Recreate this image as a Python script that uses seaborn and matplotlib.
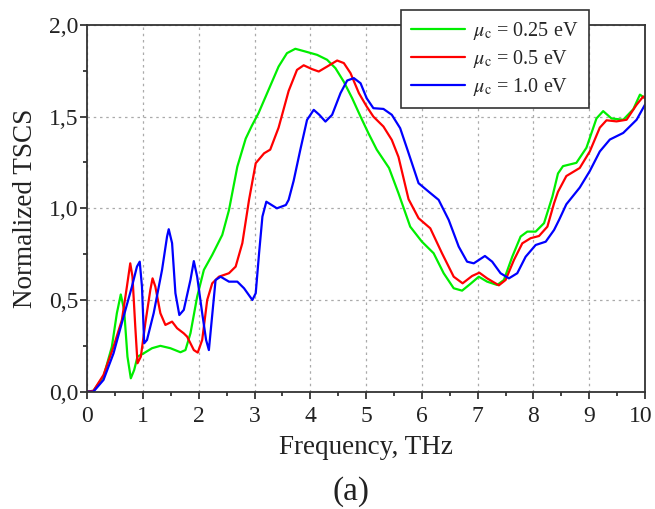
import numpy as np
import pandas as pd
import seaborn as sns
import matplotlib
matplotlib.use("Agg")
import matplotlib.pyplot as plt
import matplotlib.transforms as mtransforms
from matplotlib.ticker import MultipleLocator, FuncFormatter

# values
freq_025 = [0.0, 0.11, 0.29, 0.44, 0.53, 0.60, 0.66, 0.72, 0.78, 0.84, 0.90, 1.01, 1.16, 1.31,
            1.49, 1.67, 1.76, 1.85, 1.97, 2.09, 2.24, 2.42, 2.54, 2.69, 2.84, 2.95, 3.07, 3.25,
            3.43, 3.58, 3.73, 3.91, 4.12, 4.30, 4.45, 4.60, 4.75, 4.90, 5.04, 5.19, 5.41, 5.58,
            5.79, 6.00, 6.21, 6.39, 6.57, 6.72, 6.87, 7.02, 7.17, 7.35, 7.47, 7.62, 7.77, 7.89,
            8.04, 8.19, 8.34, 8.44, 8.53, 8.77, 8.95, 9.13, 9.25, 9.40, 9.61, 9.79, 9.91, 10.0]
tscs_025 = [0.0, 0.005, 0.082, 0.245, 0.428, 0.53, 0.446, 0.191, 0.073, 0.118, 0.191, 0.209, 0.237, 0.25,
            0.237, 0.215, 0.227, 0.319, 0.518, 0.664, 0.746, 0.855, 0.99, 1.227, 1.38, 1.45, 1.519, 1.646,
            1.773, 1.846, 1.87, 1.855, 1.837, 1.81, 1.764, 1.69, 1.60, 1.50, 1.41, 1.32, 1.22, 1.082,
            0.90, 0.818, 0.755, 0.646, 0.564, 0.551, 0.588, 0.627, 0.60, 0.582, 0.609, 0.736, 0.846, 0.873,
            0.873, 0.919, 1.064, 1.19, 1.23, 1.248, 1.33, 1.49, 1.53, 1.49, 1.483, 1.54, 1.62, 1.60]

freq_05 = [0.0, 0.11, 0.29, 0.47, 0.62, 0.71, 0.77, 0.81, 0.86, 0.90, 0.96, 1.04, 1.13, 1.17, 1.22,
           1.31, 1.40, 1.52, 1.61, 1.73, 1.79, 1.91, 1.98, 2.06, 2.15, 2.24, 2.36, 2.54, 2.66, 2.78,
           2.90, 3.02, 3.17, 3.28, 3.43, 3.61, 3.76, 3.88, 4.03, 4.15, 4.30, 4.48, 4.60, 4.72, 4.87,
           5.01, 5.13, 5.31, 5.46, 5.58, 5.76, 5.94, 6.15, 6.36, 6.57, 6.73, 6.90, 7.03, 7.17, 7.38,
           7.50, 7.65, 7.80, 7.95, 8.10, 8.25, 8.37, 8.44, 8.59, 8.83, 9.01, 9.19, 9.31, 9.49, 9.67,
           9.85, 9.97, 10.0]
tscs_05 = [0.0, 0.005, 0.091, 0.245, 0.391, 0.573, 0.70, 0.627, 0.355, 0.155, 0.191, 0.373, 0.555, 0.618, 0.573,
           0.428, 0.364, 0.382, 0.346, 0.318, 0.30, 0.227, 0.213, 0.282, 0.50, 0.591, 0.627, 0.646, 0.682, 0.81,
           1.046, 1.246, 1.30, 1.32, 1.44, 1.64, 1.755, 1.78, 1.759, 1.746, 1.773, 1.806, 1.792, 1.737, 1.628,
           1.555, 1.50, 1.446, 1.373, 1.28, 1.05, 0.946, 0.891, 0.755, 0.627, 0.591, 0.631, 0.649, 0.618, 0.58,
           0.609, 0.718, 0.809, 0.837, 0.849, 0.90, 1.028, 1.09, 1.176, 1.22, 1.31, 1.44, 1.48, 1.474, 1.483,
           1.565, 1.61, 1.60]

freq_10 = [0.0, 0.11, 0.29, 0.47, 0.65, 0.80, 0.89, 0.94, 0.98, 1.02, 1.07, 1.19, 1.34, 1.43, 1.46,
           1.52, 1.58, 1.65, 1.73, 1.85, 1.91, 1.97, 2.06, 2.13, 2.18, 2.22, 2.30, 2.39, 2.54, 2.69,
           2.81, 2.96, 3.02, 3.08, 3.14, 3.21, 3.40, 3.56, 3.61, 3.70, 3.82, 3.94, 4.06, 4.16, 4.27,
           4.39, 4.54, 4.66, 4.78, 4.90, 5.01, 5.13, 5.31, 5.46, 5.61, 5.74, 5.94, 6.12, 6.30, 6.48,
           6.66, 6.81, 6.93, 7.13, 7.26, 7.41, 7.56, 7.71, 7.86, 8.04, 8.22, 8.37, 8.46, 8.59, 8.83,
           9.01, 9.19, 9.37, 9.61, 9.85, 10.0]
tscs_10 = [0.0, 0.0, 0.064, 0.209, 0.409, 0.573, 0.682, 0.709, 0.573, 0.264, 0.282, 0.428, 0.664, 0.846, 0.886,
           0.81, 0.537, 0.418, 0.446, 0.61, 0.712, 0.627, 0.428, 0.282, 0.227, 0.355, 0.609, 0.627, 0.60, 0.60,
           0.564, 0.50, 0.537, 0.755, 0.955, 1.036, 1.0, 1.018, 1.046, 1.15, 1.32, 1.482, 1.537, 1.51, 1.473,
           1.51, 1.628, 1.697, 1.71, 1.682, 1.60, 1.546, 1.542, 1.51, 1.437, 1.32, 1.137, 1.091, 1.046, 0.937,
           0.791, 0.709, 0.70, 0.74, 0.709, 0.646, 0.618, 0.646, 0.736, 0.80, 0.818, 0.882, 0.937, 1.022, 1.113,
           1.203, 1.31, 1.375, 1.411, 1.483, 1.565]

x_ticks = list(range(11))
y_ticks = [0.0, 0.5, 1.0, 1.5, 2.0]

labels = [r"$\mu_\mathrm{c}$ = 0.25 eV", r"$\mu_\mathrm{c}$ = 0.5 eV", r"$\mu_\mathrm{c}$ = 1.0 eV"]
colors = ["#00ee00", "#ff0000", "#0000ff"]

df = pd.concat([
    pd.DataFrame({"freq": freq_025, "tscs": tscs_025, "mu": labels[0]}),
    pd.DataFrame({"freq": freq_05, "tscs": tscs_05, "mu": labels[1]}),
    pd.DataFrame({"freq": freq_10, "tscs": tscs_10, "mu": labels[2]}),
])

sns.set_style("ticks")
plt.rcParams["font.family"] = ["Liberation Serif", "DejaVu Serif"]
plt.rcParams["mathtext.fontset"] = "stix"

fig = plt.figure(figsize=(6.55, 5.09), dpi=100)
ax = fig.add_axes([0.1333, 0.2305, 0.8514, 0.7205])

sns.lineplot(data=df, x="freq", y="tscs", hue="mu", palette=dict(zip(labels, colors)),
             estimator=None, sort=False, linewidth=1.6, ax=ax)

ax.set_xlim(0, 10)
ax.set_ylim(0, 2.0)
ax.set_xticks(x_ticks, [str(t) for t in x_ticks])
ax.set_yticks(y_ticks, [f"{v:.1f}".replace(".", ",") for v in y_ticks])
ax.xaxis.set_minor_locator(MultipleLocator(0.5))
ax.yaxis.set_minor_locator(MultipleLocator(0.25))
ax.tick_params(which="major", direction="out", length=5, width=1.2, labelsize=17, colors="#222222")
ax.tick_params(axis="x", which="major", pad=5)
ax.tick_params(axis="y", which="major", pad=1.5)
ax.tick_params(which="minor", direction="out", length=3, width=1.2, colors="#222222")
ax.grid(True, which="major", color="#aaaaaa", linestyle=(0, (2, 3)), linewidth=0.9)

for s in ax.spines.values():
    s.set_linewidth(1.3)
    s.set_color("#333333")

ax.set_xlabel("Frequency, THz", fontsize=19.5, color="#222222", labelpad=6)
ax.set_ylabel("Normalized TSCS", fontsize=19.5, color="#222222", labelpad=8)

# nudge the "10" label so it stays inside the figure edge
last = ax.get_xticklabels()[-1]
last.set_horizontalalignment("right")
last.set_transform(last.get_transform() + mtransforms.ScaledTranslation(8 / 100, 0, fig.dpi_scale_trans))

leg = ax.legend(loc="upper left", bbox_to_anchor=(0.5625, 1.041), fontsize=14.5,
                frameon=True, fancybox=False, edgecolor="#333333", framealpha=1,
                handlelength=2.7, labelspacing=0.3, borderpad=0.5, handletextpad=0.4,
                borderaxespad=0)
leg.get_frame().set_linewidth(1.2)

fig.text(0.536, 1 - 492 / 509, "(a)", fontsize=24, ha="center", va="center", color="#222222")

fig.savefig("out.png", dpi=100)
